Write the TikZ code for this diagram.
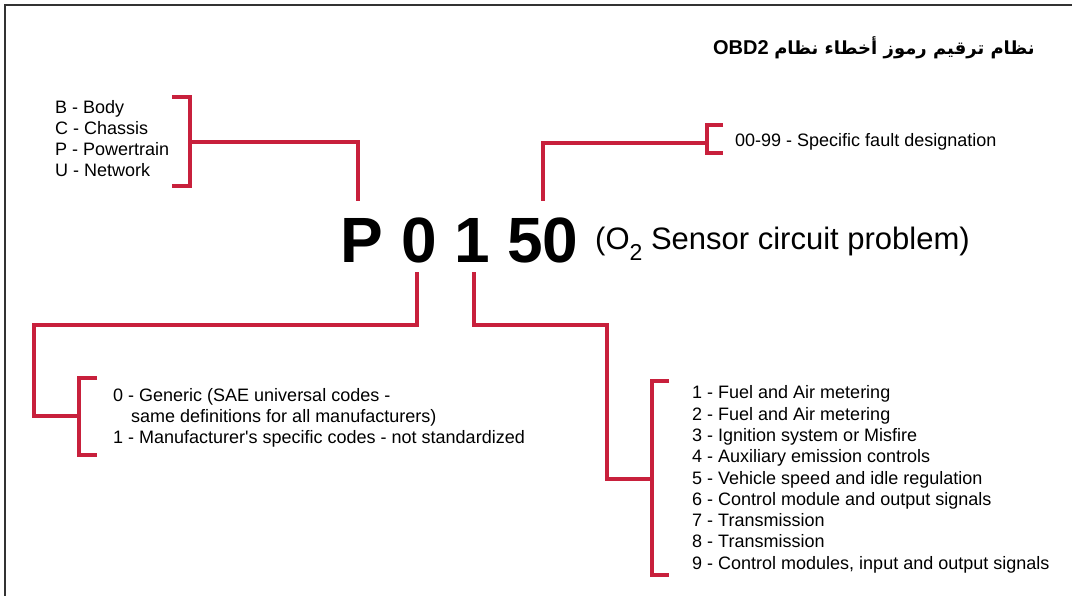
\documentclass[tikz,border=0pt]{standalone}
\usepackage{fontspec}
\setmainfont{Liberation Sans}[Ligatures=TeXOff]
\newfontfamily\arabicfont[Script=Arabic]{DejaVu Sans}
\TeXXeTstate=1
\definecolor{obdred}{HTML}{C8203C}
\definecolor{frame}{HTML}{333333}
\begin{document}
\begin{tikzpicture}[x=1pt,y=-1pt,
  conn/.style={draw=obdred,line width=3.5pt},
  lst/.style={anchor=base west,inner sep=0pt,font=\fontsize{18}{21}\selectfont},
  big/.style={anchor=base,inner sep=0pt,font=\fontsize{64}{64}\selectfont\bfseries}]
\useasboundingbox (0,0) rectangle (1072,596);
\fill[white] (0,0) rectangle (1072,596);
% frame (top and left only)
\draw[frame,line width=2.5pt] (5,596) -- (5,5) -- (1072,5);
% title
\node[anchor=base east,inner sep=0pt,font=\fontsize{20}{20}\selectfont\bfseries] (title) at (1035,55)
  {\beginR{\arabicfont\bfseries\fontsize{18}{18}\selectfont نظام ترقيم رموز أخطاء نظام} \beginL OBD2\endL\endR};
% big code
\node[big] (P) at (362,263) {P};
\node[big] (zero) at (419,263) {0};
\node[big] (one) at (472,263) {1};
\node[big] (fifty) at (543,263) {50};
\node[anchor=base west,inner sep=0pt,font=\fontsize{31}{31}\selectfont] (desc) at (595,250)
  {(O\raisebox{-0.33em}{\fontsize{23}{23}\selectfont 2} Sensor circuit problem)};
% top-left list
\node[lst] (l1) at (55,114) {B - Body};
\node[lst] (l2) at (55,135) {C - Chassis};
\node[lst] (l3) at (55,156) {P - Powertrain};
\node[lst] (l4) at (55,177) {U - Network};
% top-right
\node[lst] (fault) at (735,147) {00-99 - Specific fault designation};
% bottom-left list
\node[lst] (g1) at (113,401) {0 - Generic (SAE universal codes -};
\node[lst] (g2) at (131,422) {same definitions for all manufacturers)};
\node[lst] (g3) at (113,443) {1 - Manufacturer's specific codes - not standardized};
% bottom-right list
\foreach \t [count=\i] in {1 - Fuel and Air metering, 2 - Fuel and Air metering,
  3 - Ignition system or Misfire, 4 - Auxiliary emission controls,
  5 - Vehicle speed and idle regulation, 6 - Control module and output signals,
  7 - Transmission, 8 - Transmission, {9 - Control modules, input and output signals}}
  \node[lst] (s\i) at (692,{399+(\i-1)*21.25}) {\t};
% connector coordinates
\coordinate (pTop) at (358,201);
\coordinate (fTop) at (543,201);
\coordinate (zBot) at (417,272);
\coordinate (oBot) at (474,272);
\coordinate (bcpuMid) at (190,142);
\coordinate (faultMid) at (707,143);
\coordinate (genMid) at (79,416);
\coordinate (sysMid) at (652,479);
% brackets
\draw[conn] (172,97) -| (190,186) -- (172,186);
\draw[conn] (bcpuMid) -| (pTop);
\draw[conn] (723,125) -| (707,153) -- (723,153);
\draw[conn] (faultMid) -| (fTop);
\draw[conn] (97,378) -| (79,455) -- (97,455);
\draw[conn] (genMid) -| (34,325) -| (zBot);
\draw[conn] (669,381) -| (652,575) -- (669,575);
\draw[conn] (sysMid) -| (607,325) -| (oBot);
\end{tikzpicture}
\end{document}
